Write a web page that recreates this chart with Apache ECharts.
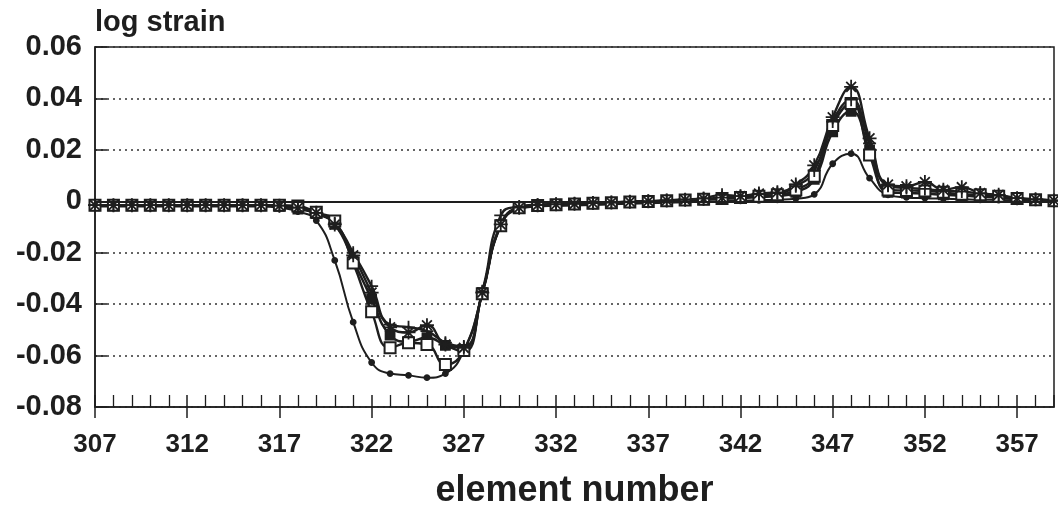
<!DOCTYPE html>
<html>
<head>
<meta charset="utf-8">
<script src="https://cdn.jsdelivr.net/npm/echarts@6/dist/echarts.min.js"></script>
<style>
  html, body { margin: 0; padding: 0; background: #ffffff; }
  #chart { width: 1058px; height: 506px; }
</style>
</head>
<body>
<div id="chart"></div>
<script>
// element numbers on the x axis
const elements = [307,308,309,310,311,312,313,314,315,316,317,318,319,320,321,322,323,324,325,326,327,328,329,330,331,332,333,334,335,336,337,338,339,340,341,342,343,344,345,346,347,348,349,350,351,352,353,354,355,356,357,358,359];

// log strain per series
const asteriskSeries = [-0.0015,-0.0015,-0.0015,-0.0015,-0.0015,-0.0015,-0.0015,-0.0015,-0.0015,-0.0015,-0.0017,-0.0025,-0.0045,-0.009,-0.021,-0.0355,-0.049,-0.051,-0.0482,-0.0557,-0.057,-0.0355,-0.009,-0.0025,-0.0015,-0.0012,-0.001,-0.0007,-0.0005,-0.0002,0.0,0.0003,0.0006,0.001,0.0014,0.002,0.003,0.0035,0.0065,0.014,0.0327,0.0445,0.0245,0.0065,0.0058,0.0075,0.0045,0.0055,0.0032,0.0025,0.0012,0.0008,0.0003];
const plusSeries = [-0.0015,-0.0015,-0.0015,-0.0015,-0.0015,-0.0015,-0.0015,-0.0015,-0.0015,-0.0015,-0.0017,-0.0025,-0.0045,-0.0085,-0.02,-0.033,-0.048,-0.049,-0.0505,-0.055,-0.0565,-0.035,-0.0055,-0.002,-0.0013,-0.0011,-0.0009,-0.0006,-0.0004,-0.0001,0.0001,0.0004,0.0007,0.0012,0.0025,0.002,0.0028,0.0032,0.0058,0.012,0.031,0.0395,0.0225,0.006,0.0052,0.0048,0.004,0.0038,0.003,0.0022,0.0012,0.0007,0.0002];
const openSquareSeries = [-0.0015,-0.0015,-0.0015,-0.0015,-0.0015,-0.0015,-0.0015,-0.0015,-0.0015,-0.0015,-0.0015,-0.0018,-0.0043,-0.0077,-0.024,-0.043,-0.057,-0.055,-0.0557,-0.0635,-0.058,-0.036,-0.0095,-0.0025,-0.0016,-0.0013,-0.0011,-0.0008,-0.0006,-0.0003,-0.0001,0.0002,0.0005,0.0008,0.0011,0.0015,0.002,0.0025,0.0044,0.0097,0.0295,0.038,0.018,0.0044,0.0042,0.004,0.0035,0.0027,0.0025,0.002,0.0011,0.0006,0.0002];
const filledSquareSeries = [-0.0018,-0.0018,-0.0018,-0.0018,-0.0018,-0.0018,-0.0018,-0.0018,-0.0018,-0.0018,-0.002,-0.003,-0.0048,-0.009,-0.023,-0.038,-0.052,-0.0546,-0.053,-0.056,-0.0585,-0.0355,-0.0092,-0.0025,-0.0018,-0.0015,-0.0013,-0.001,-0.0008,-0.0005,-0.0003,0.0,0.0003,0.0006,0.0009,0.0012,0.0016,0.002,0.0035,0.0085,0.027,0.035,0.02,0.0035,0.0032,0.003,0.0025,0.0022,0.0018,0.0014,0.0008,0.0004,0.0];
const dotSeries = [-0.002,-0.002,-0.002,-0.002,-0.002,-0.002,-0.002,-0.002,-0.002,-0.002,-0.0025,-0.004,-0.0075,-0.023,-0.047,-0.0627,-0.067,-0.0677,-0.0686,-0.067,-0.058,-0.036,-0.0095,-0.003,-0.002,-0.0018,-0.0016,-0.0014,-0.0012,-0.001,-0.0008,-0.0006,-0.0004,-0.0002,0.0,0.0002,0.0004,0.0006,0.001,0.0027,0.0146,0.0185,0.009,0.0025,0.0015,0.0012,0.001,0.0008,0.0006,0.0005,0.0003,0.0002,0.0];

const INK = '#1e1e1e';
const FONT = 'Liberation Sans';

function pairs(vals) { return elements.map((x, i) => [x, vals[i]]); }

function lineSeries(name, vals, symbol, size, opts) {
  return Object.assign({
    name: name,
    type: 'line',
    data: pairs(vals),
    smooth: 0.5,
    symbol: symbol,
    symbolSize: size,
    lineStyle: { color: INK, width: 2.4 },
    itemStyle: { color: INK, borderColor: INK, borderWidth: 1.8 },
    z: 3
  }, opts || {});
}

const chart = echarts.init(document.getElementById('chart'), null, { renderer: 'canvas' });

const option = {
  animation: false,
  backgroundColor: '#ffffff',
  title: {
    text: 'log strain',
    left: 90,
    top: 3,
    textStyle: { fontFamily: FONT, fontSize: 29, fontWeight: 'bold', color: INK }
  },
  grid: {
    left: 95, right: 4, top: 47, bottom: 99,
    containLabel: false,
    outerBoundsMode: 'none',
    show: true, borderColor: INK, borderWidth: 1.5, backgroundColor: 'transparent'
  },
  xAxis: [
    {
      type: 'value', min: 307, max: 359, interval: 5,
      axisLine: { show: true, onZero: false, lineStyle: { color: INK, width: 1.5 } },
      axisTick: { show: true, inside: false, length: 11, lineStyle: { color: INK, width: 1.5 } },
      minorTick: { show: false },
      splitLine: { show: false },
      axisLabel: { fontFamily: FONT, fontSize: 26, fontWeight: 'bold', color: INK, margin: 25, showMaxLabel: false },
      name: 'element number',
      nameLocation: 'middle',
      nameGap: 66,
      nameTextStyle: { fontFamily: FONT, fontSize: 36, fontWeight: 'bold', color: INK }
    },
    {
      type: 'value', min: 307, max: 359, interval: 5, position: 'bottom',
      axisLine: { show: false, onZero: false },
      axisTick: { show: true, inside: true, length: 12, lineStyle: { color: INK, width: 1.5 } },
      minorTick: { show: true, splitNumber: 5, length: 12, lineStyle: { color: INK, width: 1.3 } },
      splitLine: { show: false },
      axisLabel: { show: false }
    }
  ],
  yAxis: {
    type: 'value', min: -0.08, max: 0.06, interval: 0.02,
    axisLine: { show: true, onZero: false, lineStyle: { color: INK, width: 1.5 } },
    axisTick: { show: true, inside: true, length: 12, lineStyle: { color: INK, width: 1.5 } },
    splitLine: { show: true, lineStyle: { color: '#333', width: 1.5, type: [2, 4] } },
    axisLabel: { fontFamily: FONT, fontSize: 29, fontWeight: 'bold', color: INK, margin: 13 }
  },
  series: [
    lineSeries('dot', dotSeries, 'circle', 5, { lineStyle: { color: INK, width: 2 } }),
    lineSeries('filled square', filledSquareSeries, 'rect', 9),
    lineSeries('open square', openSquareSeries, 'emptyRect', 11),
    lineSeries('plus', plusSeries, 'path://M5,0L5,10M0,5L10,5', 13),
    lineSeries('asterisk', asteriskSeries, 'path://M5,0L5,10M0,5L10,5M1.5,1.5L8.5,8.5M8.5,1.5L1.5,8.5', 14, {
      markLine: {
        silent: true, symbol: 'none', label: { show: false },
        lineStyle: { type: 'solid', color: INK, width: 2 },
        data: [{ yAxis: 0 }]
      }
    })
  ]
};

chart.setOption(option);
</script>
</body>
</html>
